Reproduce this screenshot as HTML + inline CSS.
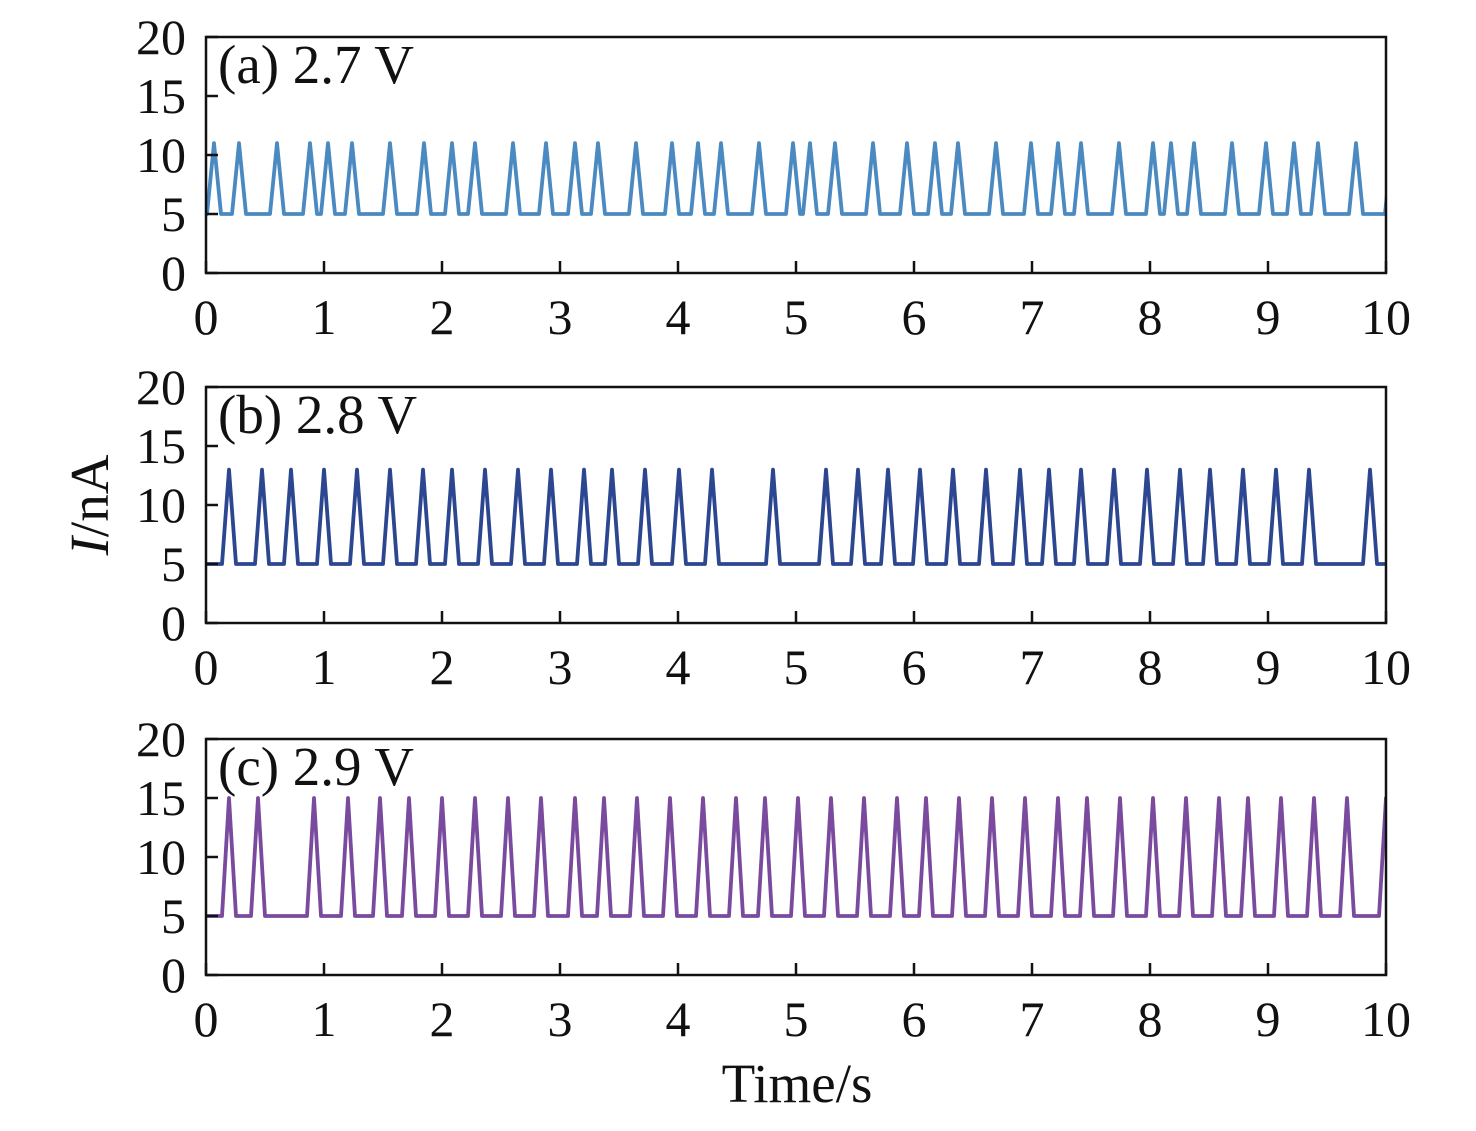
<!DOCTYPE html><html><head><style>body{margin:0;background:#fff}svg text{font-family:"Liberation Serif",serif;fill:#111}</style></head><body>
<svg id="s" width="1476" height="1126" xmlns="http://www.w3.org/2000/svg"></svg>
<script>
const s=document.getElementById('s');let h='';
const panels=[
{top:37,col:'#4b89c1',peak:11,lab:'(a) 2.7 V',p:[214,239,277,310,328,352,390,424,452,475,513,546,575,598,636,672,698,721,759,793,810,835,873,907,935,958,996,1031,1058,1081,1119,1153,1171,1194,1232,1266,1294,1318,1356,1392]},
{top:387,col:'#2c4790',peak:13,lab:'(b) 2.8 V',p:[229,262,291,324,357,390,423,452,485,518,551,584,612,645,679,712,773,826,858,888,920,953,986,1020,1049,1081,1114,1147,1180,1210,1243,1276,1309,1370]},
{top:739,col:'#7a4a9f',peak:15,lab:'(c) 2.9 V',p:[229,258,314,348,380,409,442,475,508,541,575,604,637,670,703,736,765,798,831,864,897,926,959,992,1025,1058,1087,1120,1153,1186,1219,1248,1281,1314,1347,1386]}];
for(const P of panels){
 const y=v=>P.top+236-v*11.8, L=206,R=1386;
 let d='M'+L+' '+y(5);
 h+=`<clipPath id="c${P.top}"><rect x="${L}" y="${P.top}" width="${R-L}" height="236"/></clipPath>`;
 for(const x of P.p){d+=` L${x-7} ${y(5)} L${x} ${y(P.peak)} L${x+7} ${y(5)}`;}
 d+=` L${R} ${y(5)}`;
 h+=`<path d="${d}" fill="none" stroke="${P.col}" stroke-width="3.8" stroke-linejoin="round" clip-path="url(#c${P.top})"/>`;
 h+=`<rect x="${L}" y="${P.top}" width="${R-L}" height="236" fill="none" stroke="#111" stroke-width="2.5"/>`;
 for(let i=0;i<=10;i++){const x=L+i*118;h+=`<line x1="${x}" x2="${x}" y1="${P.top+236}" y2="${P.top+224}" stroke="#111" stroke-width="2.5"/><text x="${x}" y="${P.top+297}" font-size="50" text-anchor="middle">${i}</text>`;}
 for(let v=0;v<=20;v+=5){h+=`<line x1="${L}" x2="${L+12}" y1="${y(v)}" y2="${y(v)}" stroke="#111" stroke-width="2.5"/><text x="${L-20}" y="${y(v)+17}" font-size="50" text-anchor="end">${v}</text>`;}
 h+=`<text x="218" y="${P.top+46}" font-size="55">${P.lab}</text>`;
}
h+=`<text x="797" y="1102" font-size="55" text-anchor="middle">Time/s</text>`;
h+=`<text transform="translate(108,505) rotate(-90)" font-size="55" text-anchor="middle"><tspan font-style="italic">I</tspan>/nA</text>`;
s.innerHTML=h;
</script></body></html>
